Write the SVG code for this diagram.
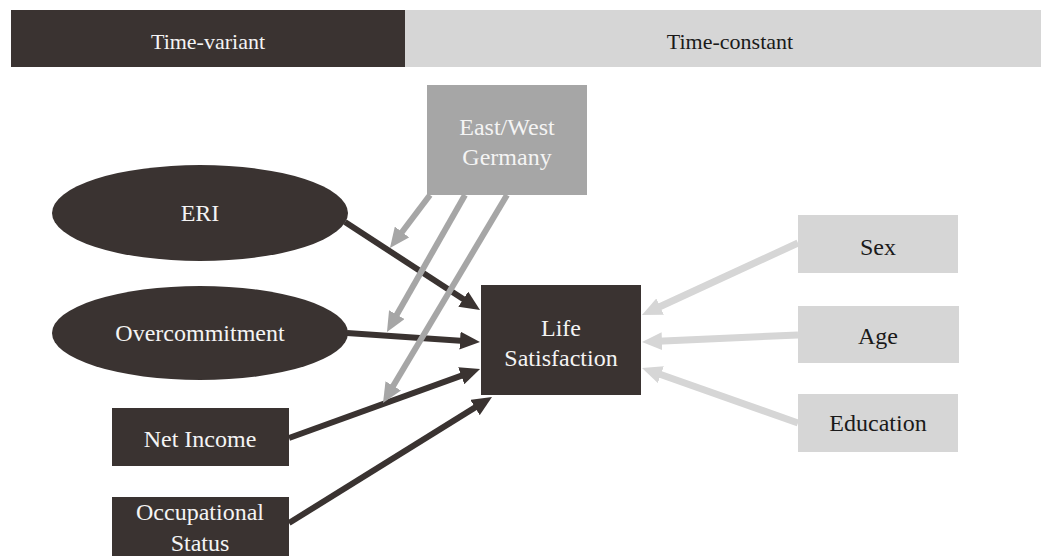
<svg xmlns="http://www.w3.org/2000/svg" width="1041" height="556" viewBox="0 0 1041 556">
<style>
text{font-family:"Liberation Serif","Times New Roman",serif;font-size:24px;text-anchor:middle}
.dk{fill:#3a3331}
.g{fill:#a6a6a6}
.lg{fill:#d6d6d6}
.wt{fill:#f4f4f4}
.bt{fill:#1a1a1a}
.cd{stroke:#3a3331;stroke-width:6;fill:none;marker-end:url(#ad)}
.cg{stroke:#a6a6a6;stroke-width:6;fill:none;marker-end:url(#ag)}
.cl{stroke:#d6d6d6;stroke-width:7;fill:none;marker-end:url(#al)}
</style>
<defs>
<marker id="ad" markerUnits="userSpaceOnUse" markerWidth="20" markerHeight="18" viewBox="0 0 20 18" refX="4" refY="9" orient="auto"><path d="M0,0L20,9L0,18z" fill="#3a3331"/></marker>
<marker id="ag" markerUnits="userSpaceOnUse" markerWidth="20" markerHeight="18" viewBox="0 0 20 18" refX="4" refY="9" orient="auto"><path d="M0,0L20,9L0,18z" fill="#a6a6a6"/></marker>
<marker id="al" markerUnits="userSpaceOnUse" markerWidth="20" markerHeight="18" viewBox="0 0 20 18" refX="4" refY="9" orient="auto"><path d="M0,0L20,9L0,18z" fill="#d6d6d6"/></marker>
</defs>
<rect width="1041" height="556" fill="#ffffff"/>
<g id="header">
<rect x="11" y="10" width="394" height="57" class="dk"/>
<rect x="405" y="10" width="636" height="57" class="lg"/>
<text x="208" y="49" class="wt" style="font-size:22px">Time-variant</text>
<text x="730" y="49" class="bt" style="font-size:22px">Time-constant</text>
</g>
<g id="connectors">
<line x1="345" y1="222" x2="466.6" y2="301.3" class="cd"/>
<line x1="347" y1="333" x2="464" y2="340.9" class="cd"/>
<line x1="289" y1="438" x2="465" y2="374.4" class="cd"/>
<line x1="289" y1="523" x2="478.4" y2="405.4" class="cd"/>
<line x1="430" y1="195" x2="399.6" y2="235.2" class="cg"/>
<line x1="465" y1="195" x2="394.9" y2="318.1" class="cg"/>
<line x1="507" y1="195" x2="391.2" y2="389.3" class="cg"/>
<line x1="798" y1="243" x2="656.5" y2="308.3" class="cl"/>
<line x1="798" y1="335" x2="658" y2="341.3" class="cl"/>
<line x1="798" y1="423" x2="657.1" y2="373.3" class="cl"/>
</g>
<g id="eastwest">
<rect x="427" y="85" width="160" height="110" class="g"/>
<text x="507" y="135" class="wt">East/West</text>
<text x="507" y="165" class="wt">Germany</text>
</g>
<g id="eri">
<ellipse cx="200" cy="213" rx="148" ry="48" class="dk"/>
<text x="200" y="221" class="wt">ERI</text>
</g>
<g id="overcommitment">
<ellipse cx="200" cy="333" rx="148" ry="47" class="dk"/>
<text x="200" y="341" class="wt">Overcommitment</text>
</g>
<g id="netincome">
<rect x="112" y="408" width="177" height="58" class="dk"/>
<text x="200" y="447" class="wt">Net Income</text>
</g>
<g id="occupational">
<rect x="112" y="497" width="177" height="59" class="dk"/>
<text x="200" y="520" class="wt">Occupational</text>
<text x="200" y="551" class="wt">Status</text>
</g>
<g id="lifesatisfaction">
<rect x="481" y="285" width="160" height="110" class="dk"/>
<text x="561" y="336" class="wt">Life</text>
<text x="561" y="366" class="wt">Satisfaction</text>
</g>
<g id="sex">
<rect x="798" y="215" width="160" height="58" class="lg"/>
<text x="878" y="255" class="bt">Sex</text>
</g>
<g id="age">
<rect x="798" y="306" width="161" height="57" class="lg"/>
<text x="878" y="344" class="bt">Age</text>
</g>
<g id="education">
<rect x="798" y="394" width="160" height="58" class="lg"/>
<text x="878" y="431" class="bt">Education</text>
</g>
</svg>
